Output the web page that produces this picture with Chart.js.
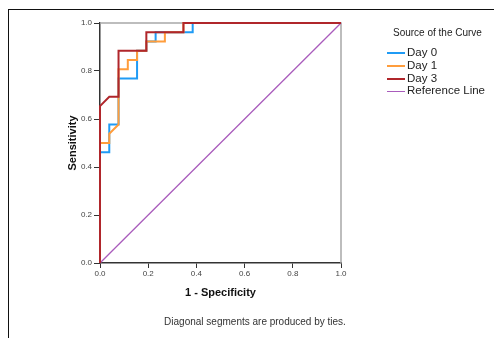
<!DOCTYPE html>
<html>
<head>
<meta charset="utf-8">
<script src="https://cdn.jsdelivr.net/npm/chart.js@4"></script>
<style>
  html, body { margin: 0; padding: 0; background: #fff; }
  body { width: 494px; height: 338px; position: relative; overflow: hidden; font-family: "Liberation Sans", Arial, sans-serif; }
  #frame { position: absolute; left: 8px; top: 9px; width: 500px; height: 340px; border-left: 1.5px solid #111; border-top: 1.5px solid #111; }
  #wrap { position: absolute; left: 0; top: 0; width: 494px; height: 338px; }
  #legend { position: absolute; left: 387px; top: 27px; font-size: 11.5px; color: #222; }
  #legend .ttl { font-size: 10px; margin-left: 6px; margin-bottom: 8px; }
  #legend .row { height: 12.8px; line-height: 12.8px; white-space: nowrap; }
  #legend .sw { display: inline-block; width: 18px; vertical-align: middle; margin-right: 2px; }
  #note { position: absolute; left: 0; width: 510px; top: 316px; text-align: center; font-size: 10px; color: #333; }
</style>
</head>
<body>
<div id="frame"></div>
<div id="wrap"><canvas id="roc" width="494" height="338"></canvas></div>
<div id="legend"></div>
<div id="note">Diagonal segments are produced by ties.</div>
<script>
// ROC curve vertices (1 - specificity, sensitivity)
const day0X = [0, 0, 0.0385, 0.0385, 0.0769, 0.0769, 0.1538, 0.1538, 0.1923, 0.1923, 0.2308, 0.2308, 0.3846, 0.3846, 1];
const day0Y = [0, 0.4615, 0.4615, 0.5769, 0.5769, 0.7692, 0.7692, 0.8846, 0.8846, 0.9231, 0.9231, 0.9615, 0.9615, 1, 1];
const day1X = [0, 0, 0.0385, 0.0385, 0.0769, 0.0769, 0.1154, 0.1154, 0.1538, 0.1538, 0.1923, 0.1923, 0.2692, 0.2692, 0.3462, 0.3462, 1];
const day1Y = [0, 0.5, 0.5, 0.5385, 0.5769, 0.8077, 0.8077, 0.8462, 0.8462, 0.8846, 0.8846, 0.9231, 0.9231, 0.9615, 0.9615, 1, 1];
const day3X = [0, 0, 0.0385, 0.0769, 0.0769, 0.1923, 0.1923, 0.3462, 0.3462, 1];
const day3Y = [0, 0.6538, 0.6923, 0.6923, 0.8846, 0.8846, 0.9615, 0.9615, 1, 1];
const refX = [0, 1];
const refY = [0, 1];

const seriesNames = ['Day 0', 'Day 1', 'Day 3', 'Reference Line'];
const seriesColors = ['#1f9bf5', '#ff9d3c', '#b0262b', '#a95cbc'];
const seriesWidths = [2, 2, 2, 1.3];
const xTitle = '1 - Specificity';
const yTitle = 'Sensitivity';
const legendTitle = 'Source of the Curve';

function pts(xs, ys){ return xs.map(function(x, i){ return {x: x, y: ys[i]}; }); }
const allX = [day0X, day1X, day3X, refX];
const allY = [day0Y, day1Y, day3Y, refY];
const drawOrder = [3, 2, 1, 4];

const datasets = seriesNames.map(function(n, i){
    return {label: n, data: pts(allX[i], allY[i]), borderColor: seriesColors[i], backgroundColor: seriesColors[i],
        borderWidth: seriesWidths[i], showLine: true, pointRadius: 0, tension: 0, clip: false, order: drawOrder[i],
        borderCapStyle: 'butt', borderJoinStyle: 'miter'};
});

// gray top/right frame of the plot area
const boxFrame = {
    id: 'boxFrame',
    beforeDatasetsDraw: function(chart){
        const a = chart.chartArea, c = chart.ctx;
        c.save();
        c.strokeStyle = '#a8a8a8';
        c.lineWidth = 1.5;
        c.beginPath();
        c.moveTo(a.left, a.top); c.lineTo(a.right, a.top); c.lineTo(a.right, a.bottom);
        c.stroke();
        c.restore();
    }
};

const tickFont = {family: 'Liberation Sans, Arial', size: 8};
const titleFont = {family: 'Liberation Sans, Arial', size: 11, weight: 'bold'};

new Chart(document.getElementById('roc').getContext('2d'), {
    type: 'scatter',
    data: {datasets: datasets},
    options: {
        responsive: false,
        animation: false,
        layout: {padding: {left: 62, top: 23, right: 153, bottom: 34}},
        plugins: {legend: {display: false}, tooltip: {enabled: false}},
        scales: {
            x: {
                type: 'linear', min: 0, max: 1,
                ticks: {stepSize: 0.2, color: '#444', font: tickFont, padding: 1, maxRotation: 0,
                    callback: function(v){ return Number(v).toFixed(1); }},
                grid: {drawOnChartArea: false, drawTicks: true, tickLength: 5, color: '#333'},
                border: {color: '#333', width: 1.5},
                title: {display: true, text: xTitle, color: '#111', font: titleFont, padding: {top: 0, bottom: 4}},
                afterFit: function(s){ s.height = 41; }
            },
            y: {
                type: 'linear', min: 0, max: 1,
                ticks: {stepSize: 0.2, color: '#444', font: tickFont, padding: 2,
                    callback: function(v){ return Number(v).toFixed(1); }},
                grid: {drawOnChartArea: false, drawTicks: true, tickLength: 6, color: '#333'},
                border: {color: '#333', width: 1.5},
                title: {display: true, text: yTitle, color: '#111', font: titleFont, padding: {top: 4, bottom: 0}},
                afterFit: function(s){ s.width = 38; }
            }
        }
    },
    plugins: [boxFrame]
});

// legend
const lg = document.getElementById('legend');
let html = '<div class="ttl">' + legendTitle + '</div>';
seriesNames.forEach(function(n, i){
    html += '<div class="row"><span class="sw" style="border-top:' + Math.max(1, Math.round(seriesWidths[i])) + 'px solid ' + seriesColors[i] + '"></span>' + n + '</div>';
});
lg.innerHTML = html;
</script>
</body>
</html>
